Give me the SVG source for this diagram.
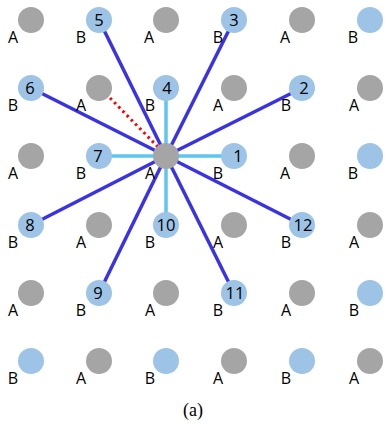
<svg xmlns="http://www.w3.org/2000/svg" width="385" height="430" viewBox="0 0 385 430">
<style>
.a{fill:#a5a5a5}
.b{fill:#9dc3e6}
.dk{stroke:#3a33e6;stroke-width:3.5;fill:none}
.lt{stroke:#5ec4f2;stroke-width:3.5;fill:none}
.lab{font-family:"Open Sans","Liberation Sans",sans-serif;font-size:16px;fill:#000;text-anchor:middle}
.num{font-family:"Open Sans","Liberation Sans",sans-serif;font-size:16.5px;fill:#000;text-anchor:middle}
.cap{font-family:"Liberation Serif",serif;font-size:18px;fill:#000;text-anchor:middle}
</style>
<rect width="385" height="430" fill="#fff"/>
<g id="connectors">
<line class="dk" x1="166" y1="156" x2="99" y2="20"/>
<line class="dk" x1="166" y1="156" x2="234" y2="20"/>
<line class="dk" x1="166" y1="156" x2="31" y2="88"/>
<line class="dk" x1="166" y1="156" x2="302" y2="88"/>
<line class="dk" x1="166" y1="156" x2="31" y2="225"/>
<line class="dk" x1="166" y1="156" x2="302" y2="225"/>
<line class="dk" x1="166" y1="156" x2="99" y2="293"/>
<line class="dk" x1="166" y1="156" x2="234" y2="293"/>
<line class="lt" x1="166" y1="156" x2="166" y2="88"/>
<line class="lt" x1="166" y1="156" x2="99" y2="156"/>
<line class="lt" x1="166" y1="156" x2="234" y2="156"/>
<line class="lt" x1="166" y1="156" x2="166" y2="225"/>
<line x1="110" y1="98" x2="158" y2="147" stroke="#ff0000" stroke-width="3" stroke-dasharray="2.5,3.5"/>
</g>
<!-- row 0 -->
<g id="n0_0"><circle class="a" cx="31" cy="20" r="13"/><text class="lab" x="13" y="43">A</text></g>
<g id="n5"><circle class="b" cx="99" cy="20" r="13"/><text class="num" x="99" y="26">5</text><text class="lab" x="81" y="43">B</text></g>
<g id="n0_2"><circle class="a" cx="166" cy="20" r="13"/><text class="lab" x="149" y="43">A</text></g>
<g id="n3"><circle class="b" cx="234" cy="20" r="13"/><text class="num" x="234" y="26">3</text><text class="lab" x="218" y="43">B</text></g>
<g id="n0_4"><circle class="a" cx="302" cy="20" r="13"/><text class="lab" x="285" y="43">A</text></g>
<g id="n0_5"><circle class="b" cx="370" cy="20" r="13"/><text class="lab" x="353" y="43">B</text></g>
<!-- row 1 -->
<g id="n6"><circle class="b" cx="31" cy="88" r="13"/><text class="num" x="30" y="94">6</text><text class="lab" x="13" y="111">B</text></g>
<g id="n1_1"><circle class="a" cx="99" cy="88" r="13"/><text class="lab" x="81" y="111">A</text></g>
<g id="n4"><circle class="b" cx="166" cy="88" r="13"/><text class="num" x="167" y="94">4</text><text class="lab" x="150" y="111">B</text></g>
<g id="n1_3"><circle class="a" cx="234" cy="88" r="13"/><text class="lab" x="218" y="111">A</text></g>
<g id="n2"><circle class="b" cx="302" cy="88" r="13"/><text class="num" x="304" y="94">2</text><text class="lab" x="286" y="111">B</text></g>
<g id="n1_5"><circle class="a" cx="370" cy="88" r="13"/><text class="lab" x="354" y="111">A</text></g>
<!-- row 2 -->
<g id="n2_0"><circle class="a" cx="31" cy="156" r="13"/><text class="lab" x="13" y="179">A</text></g>
<g id="n7"><circle class="b" cx="99" cy="156" r="13"/><text class="num" x="98" y="162">7</text><text class="lab" x="81" y="179">B</text></g>
<g id="center"><circle class="a" cx="166" cy="156" r="13"/><text class="lab" x="150" y="179">A</text></g>
<g id="n1"><circle class="b" cx="234" cy="156" r="13"/><text class="num" x="238" y="162">1</text><text class="lab" x="218" y="179">B</text></g>
<g id="n2_4"><circle class="a" cx="302" cy="156" r="13"/><text class="lab" x="285" y="179">A</text></g>
<g id="n2_5"><circle class="b" cx="370" cy="156" r="13"/><text class="lab" x="353" y="179">B</text></g>
<!-- row 3 -->
<g id="n8"><circle class="b" cx="31" cy="225" r="13"/><text class="num" x="30" y="231">8</text><text class="lab" x="13" y="248">B</text></g>
<g id="n3_1"><circle class="a" cx="99" cy="225" r="13"/><text class="lab" x="81" y="248">A</text></g>
<g id="n10"><circle class="b" cx="166" cy="225" r="13"/><text class="num" x="166" y="231">10</text><text class="lab" x="150" y="248">B</text></g>
<g id="n3_3"><circle class="a" cx="234" cy="225" r="13"/><text class="lab" x="218" y="248">A</text></g>
<g id="n12"><circle class="b" cx="302" cy="225" r="13"/><text class="num" x="303" y="231">12</text><text class="lab" x="286" y="248">B</text></g>
<g id="n3_5"><circle class="a" cx="370" cy="225" r="13"/><text class="lab" x="354" y="248">A</text></g>
<!-- row 4 -->
<g id="n4_0"><circle class="a" cx="31" cy="293" r="13"/><text class="lab" x="13" y="316">A</text></g>
<g id="n9"><circle class="b" cx="99" cy="293" r="13"/><text class="num" x="98" y="299">9</text><text class="lab" x="81" y="316">B</text></g>
<g id="n4_2"><circle class="a" cx="166" cy="293" r="13"/><text class="lab" x="150" y="316">A</text></g>
<g id="n11"><circle class="b" cx="234" cy="293" r="13"/><text class="num" x="235" y="299">11</text><text class="lab" x="218" y="316">B</text></g>
<g id="n4_4"><circle class="a" cx="302" cy="293" r="13"/><text class="lab" x="286" y="316">A</text></g>
<g id="n4_5"><circle class="b" cx="370" cy="293" r="13"/><text class="lab" x="354" y="316">B</text></g>
<!-- row 5 -->
<g id="n5_0"><circle class="b" cx="31" cy="361" r="13"/><text class="lab" x="13" y="384">B</text></g>
<g id="n5_1"><circle class="a" cx="99" cy="361" r="13"/><text class="lab" x="81" y="384">A</text></g>
<g id="n5_2"><circle class="b" cx="166" cy="361" r="13"/><text class="lab" x="150" y="384">B</text></g>
<g id="n5_3"><circle class="a" cx="234" cy="361" r="13"/><text class="lab" x="218" y="384">A</text></g>
<g id="n5_4"><circle class="b" cx="302" cy="361" r="13"/><text class="lab" x="286" y="384">B</text></g>
<g id="n5_5"><circle class="a" cx="370" cy="361" r="13"/><text class="lab" x="354" y="384">A</text></g>
<text class="cap" x="193" y="416">(a)</text>
</svg>
